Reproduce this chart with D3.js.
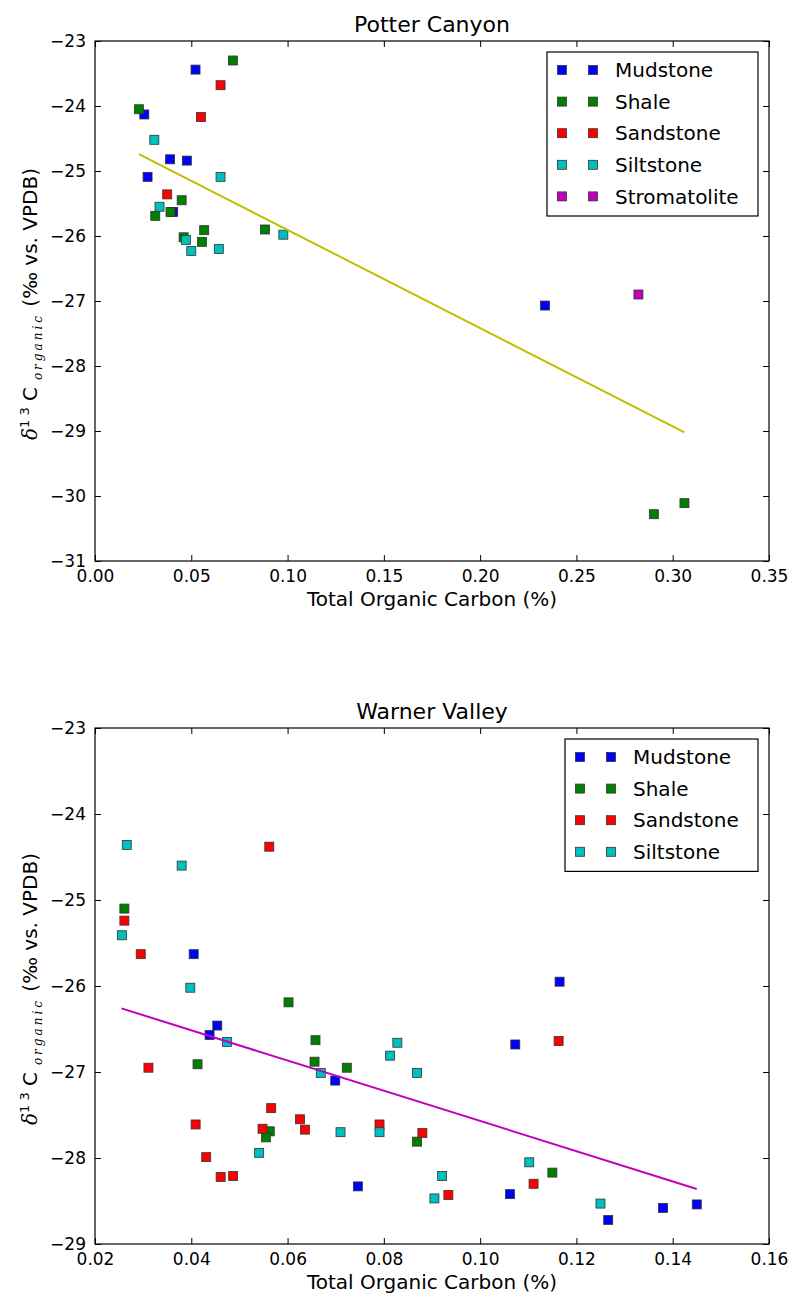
<!DOCTYPE html>
<html lang="en">
<head>
<meta charset="UTF-8">
<title>TOC vs d13C</title>
<script src="https://d3js.org/d3.v7.min.js"></script>
<style>
  body { margin: 0; background: #fff; }
  svg text { font-family: "DejaVu Sans", sans-serif; fill: #000; }
</style>
</head>
<body>
<div id="chart"></div>
<script>
// rock types, in legend order
const rockTypes = ["Mudstone", "Shale", "Sandstone", "Siltstone", "Stromatolite"];
const rockColors = ["#0000ff", "#008000", "#ff0000", "#00bfbf", "#bf00bf"];

// Potter Canyon samples: [TOC %, d13C]
const potterMudstone = [[0.0522,-23.44],[0.0256,-24.13],[0.039,-24.82],[0.0477,-24.84],[0.0273,-25.09],[0.0406,-25.63],[0.2337,-27.07]];
const potterShale = [[0.0716,-23.30],[0.0228,-24.05],[0.045,-25.45],[0.0313,-25.69],[0.0392,-25.63],[0.0567,-25.91],[0.0883,-25.90],[0.046,-26.02],[0.0556,-26.09],[0.3061,-30.11],[0.2902,-30.28]];
const potterSandstone = [[0.0652,-23.68],[0.055,-24.17],[0.0375,-25.36]];
const potterSiltstone = [[0.0308,-24.52],[0.0652,-25.09],[0.0335,-25.55],[0.0978,-25.98],[0.0472,-26.06],[0.050,-26.23],[0.0643,-26.20]];
const potterStromatolite = [[0.2822,-26.90]];
const potterFit = [[0.0228,-24.74],[0.3061,-29.02]];
const potterXTicks = [0, 0.05, 0.10, 0.15, 0.20, 0.25, 0.30, 0.35];
const potterYTicks = [-23, -24, -25, -26, -27, -28, -29, -30, -31];

// Warner Valley samples
const warnerMudstone = [[0.0405,-25.63],[0.0454,-26.46],[0.0438,-26.57],[0.0699,-27.10],[0.0746,-28.33],[0.1165,-25.95],[0.1073,-26.68],[0.1062,-28.42],[0.1266,-28.72],[0.1380,-28.58],[0.1450,-28.54]];
const warnerShale = [[0.0261,-25.10],[0.0602,-26.19],[0.0658,-26.63],[0.0656,-26.88],[0.0723,-26.95],[0.0413,-26.91],[0.0563,-27.69],[0.0555,-27.76],[0.0869,-27.81],[0.1150,-28.17]];
const warnerSandstone = [[0.0562,-24.38],[0.0261,-25.24],[0.0295,-25.63],[0.0311,-26.95],[0.0566,-27.42],[0.0626,-27.55],[0.0636,-27.67],[0.0409,-27.61],[0.0548,-27.66],[0.0431,-27.99],[0.0461,-28.22],[0.0487,-28.21],[0.0791,-27.61],[0.0880,-27.71],[0.0934,-28.43],[0.1163,-26.64],[0.1111,-28.30]];
const warnerSiltstone = [[0.0266,-24.36],[0.038,-24.60],[0.0256,-25.41],[0.0398,-26.02],[0.0474,-26.65],[0.0669,-27.01],[0.0828,-26.66],[0.0813,-26.81],[0.0869,-27.01],[0.0710,-27.70],[0.0541,-27.94],[0.0791,-27.70],[0.0921,-28.21],[0.0905,-28.47],[0.1102,-28.05],[0.1250,-28.53]];
const warnerFit = [[0.0255,-26.26],[0.1450,-28.36]];
const warnerXTicks = [0.02, 0.04, 0.06, 0.08, 0.10, 0.12, 0.14, 0.16];
const warnerYTicks = [-23, -24, -25, -26, -27, -28, -29];

const W = 790, H = 1293;
const svg = d3.select("#chart").append("svg").attr("width", W).attr("height", H);

const panels = [
  { title: "Potter Canyon", top: 41, bottom: 561, xdom: [0, 0.35], ydom: [-31, -23],
    series: [potterMudstone, potterShale, potterSandstone, potterSiltstone, potterStromatolite],
    fit: potterFit, fitColor: "#bfbf00", xticks: potterXTicks, yticks: potterYTicks,
    legendX: 547, legendW: 211 },
  { title: "Warner Valley", top: 728, bottom: 1244, xdom: [0.02, 0.16], ydom: [-29, -23],
    series: [warnerMudstone, warnerShale, warnerSandstone, warnerSiltstone],
    fit: warnerFit, fitColor: "#bf00bf", xticks: warnerXTicks, yticks: warnerYTicks,
    legendX: 565, legendW: 193 }
];

const left = 95, right = 769, ms = 9;

panels.forEach(p => {
  const x = d3.scaleLinear().domain(p.xdom).range([left, right]);
  const y = d3.scaleLinear().domain(p.ydom).range([p.bottom, p.top]);
  const g = svg.append("g");

  // markers
  p.series.forEach((pts, i) => {
    g.selectAll(null).data(pts).enter().append("rect")
      .attr("x", d => x(d[0]) - ms / 2)
      .attr("y", d => y(d[1]) - ms / 2)
      .attr("width", ms).attr("height", ms)
      .attr("fill", rockColors[i])
      .attr("stroke", "#333").attr("stroke-width", 0.8);
  });

  // fit line
  g.append("path").datum(p.fit)
    .attr("d", d3.line().x(d => x(d[0])).y(d => y(d[1])))
    .attr("fill", "none").attr("stroke", p.fitColor).attr("stroke-width", 2);

  // axes with inward ticks
  const fx = d3.format(".2f");
  const ax = [
    g.append("g").attr("transform", `translate(0,${p.bottom})`)
      .call(d3.axisBottom(x).tickValues(p.xticks).tickSize(-6).tickPadding(9).tickFormat(fx)),
    g.append("g").attr("transform", `translate(0,${p.top})`)
      .call(d3.axisTop(x).tickValues(p.xticks).tickSize(-6).tickFormat("")),
    g.append("g").attr("transform", `translate(${left},0)`)
      .call(d3.axisLeft(y).tickValues(p.yticks).tickSize(-6).tickPadding(9).tickFormat(d3.format("d"))),
    g.append("g").attr("transform", `translate(${right},0)`)
      .call(d3.axisRight(y).tickValues(p.yticks).tickSize(-6).tickFormat(""))
  ];
  ax.forEach(a => {
    a.select(".domain").remove();
    a.selectAll("text").style("font-size", "17px").attr("font-family", null);
    a.selectAll("line").attr("stroke", "#000");
  });

  g.append("rect").attr("x", left).attr("y", p.top)
    .attr("width", right - left).attr("height", p.bottom - p.top)
    .attr("fill", "none").attr("stroke", "#000").attr("stroke-width", 1.2);

  // title and axis labels
  g.append("text").attr("x", (left + right) / 2).attr("y", p.top - 9)
    .attr("text-anchor", "middle").style("font-size", "22px").text(p.title);
  g.append("text").attr("x", (left + right) / 2).attr("y", p.bottom + 45)
    .attr("text-anchor", "middle").style("font-size", "20px").text("Total Organic Carbon (%)");

  const yl = g.append("text")
    .attr("transform", `translate(37,${(p.top + p.bottom) / 2 + 3}) rotate(-90)`)
    .attr("text-anchor", "middle").style("font-size", "20px");
  yl.append("tspan").style("font-family", "DejaVu Serif").style("font-style", "italic").text("δ");
  yl.append("tspan").attr("dy", -8).style("font-size", "13px").text("1 3");
  yl.append("tspan").attr("dy", 8).text(" C");
  yl.append("tspan").attr("dy", 5).style("font-size", "12px").style("font-family", "DejaVu Serif")
    .style("font-style", "italic").style("letter-spacing", "3px").text(" organic");
  yl.append("tspan").attr("dy", -5).text("  (‰ vs. VPDB)");

  // legend
  const n = p.series.length, rowH = 31.6;
  const ly = p.top + 11;
  g.append("rect").attr("x", p.legendX).attr("y", ly)
    .attr("width", p.legendW).attr("height", n * rowH + 6)
    .attr("fill", "#fff").attr("stroke", "#000").attr("stroke-width", 1.2);
  for (let i = 0; i < n; i++) {
    const cy = ly + 18 + i * rowH;
    [15, 46].forEach(dx => {
      g.append("rect").attr("x", p.legendX + dx - ms / 2).attr("y", cy - ms / 2)
        .attr("width", ms).attr("height", ms)
        .attr("fill", rockColors[i]).attr("stroke", "#333").attr("stroke-width", 0.8);
    });
    g.append("text").attr("x", p.legendX + 68).attr("y", cy).attr("dy", "0.36em")
      .style("font-size", "20px").text(rockTypes[i]);
  }
});
</script>
</body>
</html>
